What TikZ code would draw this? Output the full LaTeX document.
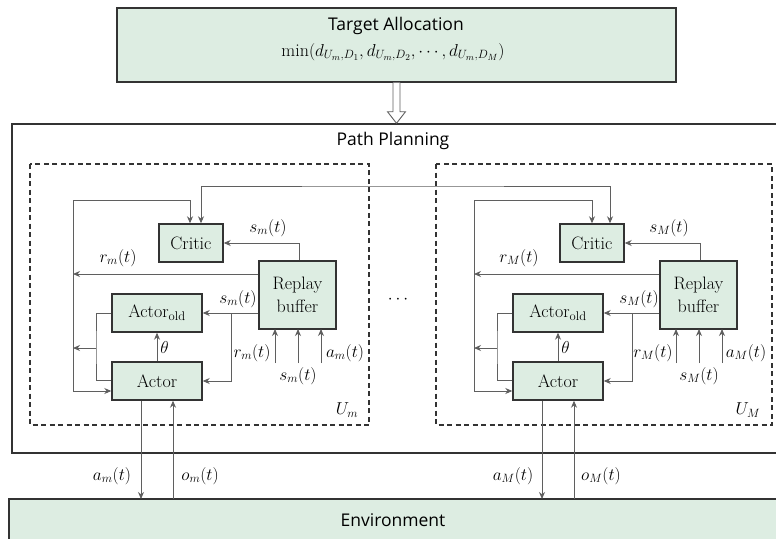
\documentclass[tikz,border=0pt]{standalone}
\usepackage{fontspec}
\newfontfamily\sansf{Open Sans}
\usetikzlibrary{arrows.meta,calc}
\definecolor{boxg}{HTML}{DDEDE2}
\definecolor{boxline}{HTML}{333333}
\definecolor{conline}{HTML}{5F5F5F}
\begin{document}
\begin{tikzpicture}[x=1pt,y=-1pt,
  >={Stealth[length=7pt,width=6pt]},
  blk/.style={draw=boxline, fill=boxg, line width=1.4pt, inner sep=0pt, font=\fontsize{18}{24}\selectfont},
  frame/.style={draw=boxline, line width=1.4pt, inner sep=0pt},
  dbox/.style={draw=boxline, line width=1.4pt, dash pattern=on 5pt off 3.5pt},
  con/.style={draw=conline, line width=0.9pt},
  lab/.style={inner sep=0pt, font=\fontsize{17}{19}\selectfont},
  stitle/.style={inner sep=1pt, font=\sansf\fontsize{17.5}{21}\selectfont}]
\useasboundingbox (0,0) rectangle (776,538);
\clip (0,0) rectangle (776,538);

% big boxes
\node[blk, minimum width=559, minimum height=74] (ta) at (396.5,45) {};
\node[stitle] (tat) at (396,26) {Target Allocation};
\node[lab, font=\fontsize{18}{20}\selectfont] (taf) at (393,52) {$\min(d_{U_m,D_1},d_{U_m,D_2},\cdots,d_{U_m,D_M})$};

\node[frame, minimum width=778, minimum height=329] (pp) at (401,288.5) {};
\node[stitle, fill=white] (ppt) at (393,141) {Path Planning};

\node[blk, minimum width=781, minimum height=61] (env) at (399.5,529.5) {};
\node[stitle] (envt) at (393,520) {Environment};

% hollow arrow
\draw[con, fill=white] ($(ta.south)+(-3.5,0)$) -- ($(ta.south)+(-3.5,29)$) -- ($(ta.south)+(-9,29)$)
  -- (ta.south |- pp.north) -- ($(ta.south)+(9,29)$) -- ($(ta.south)+(3.5,29)$) -- ($(ta.south)+(3.5,0)$);

\node[lab] (dots) at (398,300) {$\cdots$};

\foreach \dx/\pf/\ix/\xl/\xr/\ca in {0/L/m/30/369/-1, 401/R/M/436/772/0} {
  \draw[dbox] (\xl,164) rectangle (\xr,425);
  \node[blk, minimum width=64, minimum height=38] (c\pf) at (\dx+191,243) {Critic};
  \node[blk, minimum width=77, minimum height=68, align=center] (rb\pf) at (\dx+297.5,295) {Replay\\[-1pt]buffer};
  \node[blk, minimum width=90, minimum height=38] (ao\pf) at (\dx+157,313) {Actor$_{\mathrm{old}}$};
  \node[blk, minimum width=90, minimum height=38] (a\pf) at (\dx+157,381) {Actor};

  \coordinate (bt\pf) at (\dx+73,200);
  \coordinate (bb\pf) at (\dx+73,391);
  \coordinate (r\pf) at (\dx+73,274);
  \coordinate (fb\pf) at (\dx+96,348);
  \coordinate (sb\pf) at (\dx+231,313);
  \coordinate (ae\pf) at (\dx+141,499);
  \coordinate (oe\pf) at (\dx+173,499);

  % bus
  \draw[con,->] (bt\pf) -| ([xshift=\ca pt]c\pf.north);
  \draw[con,->] (bt\pf) -- (bb\pf) -- (a\pf.west |- bb\pf);
  \draw[con,->] (rb\pf.west |- r\pf) -- (r\pf);
  \node[lab] (lr\pf) at (\dx+118,258) {$r_{\ix}(t)$};
  % feedback
  \draw[con] (ao\pf.west) -| (fb\pf) |- ([yshift=1pt]a\pf.west);
  \draw[con,->] (fb\pf) -- (fb\pf -| bt\pf);
  % theta
  \draw[con,->] (a\pf.north) -- node[lab, right=3pt] (th\pf) {$\theta$} (ao\pf.south);
  % s to actor old and actor
  \draw[con,->] (rb\pf.west |- ao\pf.east) -- (ao\pf.east);
  \draw[con,->] (sb\pf) |- (a\pf.east);
  \node[lab] (ls\pf) at (\dx+238,299) {$s_{\ix}(t)$};
  % s to critic
  \draw[con,->] ([xshift=1.5pt]rb\pf.north) |- (c\pf.east);
  \node[lab] (lc\pf) at (\dx+268,228) {$s_{\ix}(t)$};
  % inputs
  \foreach \k in {275,298,321} {
    \draw[con,->] (\dx+\k,363) -- (\dx+\k,329);
  }
  \node[lab] (li1\pf) at (\dx+252,353) {$r_{\ix}(t)$};
  \node[lab] (li2\pf) at (\dx+298,376) {$s_{\ix}(t)$};
  \node[lab] (li3\pf) at (\dx+345,353) {$a_{\ix}(t)$};
  % environment
  \draw[con,->] (a\pf.south -| ae\pf) -- (ae\pf);
  \draw[con,->] (oe\pf) -- (a\pf.south -| oe\pf);
  \node[lab] (la\pf) at (\dx+112,476) {$a_{\ix}(t)$};
  \node[lab] (lo\pf) at (\dx+200,476) {$o_{\ix}(t)$};
  \node[lab] (u\pf) at (\dx+347,410) {$U_{\ix}$};
}

% cross link between critics
\coordinate (top) at (400,186);
\draw[con,<->] ([xshift=10pt]cL.north) |- (top) -| ([xshift=18pt]cR.north);
\end{tikzpicture}
\end{document}
